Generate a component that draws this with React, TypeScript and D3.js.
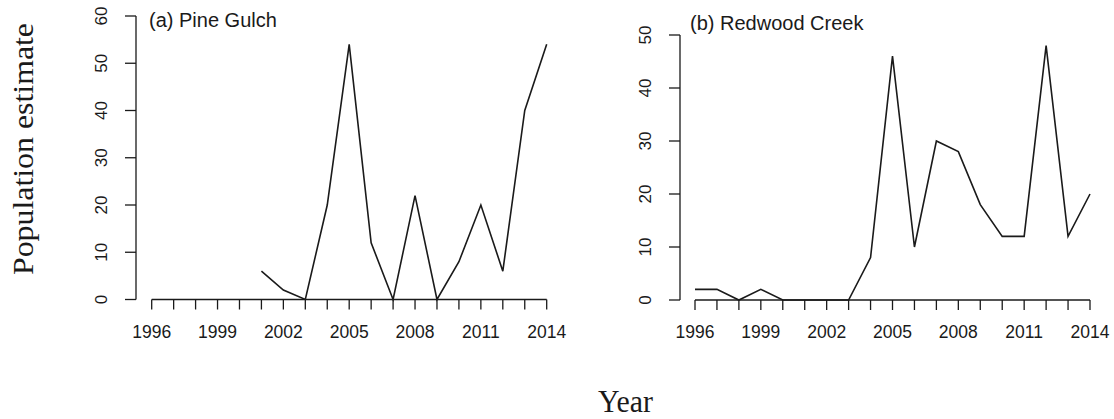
import React from "react";
import * as d3 from "d3";

const years = d3.range(1996, 2015);
// null = no estimate
const pineGulch: (number | null)[] = [null, null, null, null, null, 6, 2, 0, 20, 54, 12, 0, 22, 0, 8, 20, 6, 40, 54];
const redwoodCreek: (number | null)[] = [2, 2, 0, 2, 0, 0, 0, 0, 8, 46, 10, 30, 28, 18, 12, 12, 48, 12, 20];
const xTickLabels = [1996, 1999, 2002, 2005, 2008, 2011, 2014];
const pineTicks = [0, 10, 20, 30, 40, 50, 60];
const redwoodTicks = [0, 10, 20, 30, 40, 50];

const SANS = "'Liberation Sans', Arial, Helvetica, sans-serif";
const SERIF = "'Liberation Serif', 'Times New Roman', serif";
const INK = "#1a1a1a";

type PanelProps = {
  title: string;
  values: (number | null)[];
  yMax: number;
  yTicks: number[];
  xRange: [number, number];
  yRange: [number, number];
  axisX: number;
  titlePos: [number, number];
};

function Panel({ title, values, yMax, yTicks, xRange, yRange, axisX, titlePos }: PanelProps) {
  const x = d3.scaleLinear().domain([1996, 2014]).range(xRange);
  const y = d3.scaleLinear().domain([0, yMax]).range(yRange);
  const line = d3
    .line<[number, number | null]>()
    .defined((d) => d[1] !== null)
    .x((d) => x(d[0]))
    .y((d) => y(d[1] as number));
  const pts: [number, number | null][] = years.map((yr, i) => [yr, values[i]]);
  const baseY = y(0);
  return (
    <g>
      {/* x axis */}
      <line x1={x(1996)} x2={x(2014)} y1={baseY} y2={baseY} stroke={INK} strokeWidth={1.3} />
      {years.map((yr) => (
        <line key={yr} x1={x(yr)} x2={x(yr)} y1={baseY} y2={baseY + 10} stroke={INK} strokeWidth={1.3} />
      ))}
      {xTickLabels.map((yr) => (
        <text key={yr} x={x(yr)} y={338} textAnchor="middle" fontFamily={SANS} fontSize={17.5} fill={INK}>
          {yr}
        </text>
      ))}
      {/* y axis */}
      <line x1={axisX} x2={axisX} y1={y(0)} y2={y(yMax)} stroke={INK} strokeWidth={1.3} />
      {yTicks.map((t) => (
        <g key={t}>
          <line x1={axisX - 11} x2={axisX} y1={y(t)} y2={y(t)} stroke={INK} strokeWidth={1.3} />
          <text
            transform={`translate(${axisX - 29},${y(t)}) rotate(-90)`}
            textAnchor="middle"
            fontFamily={SANS}
            fontSize={17}
            fill={INK}
          >
            {t}
          </text>
        </g>
      ))}
      <text x={titlePos[0]} y={titlePos[1]} fontFamily={SANS} fontSize={20} fill={INK}>
        {title}
      </text>
      <path d={line(pts) || ""} fill="none" stroke={INK} strokeWidth={1.6} strokeLinejoin="miter" />
    </g>
  );
}

export default function App() {
  return (
    <svg
      width={1114}
      height={419}
      style={{ position: "absolute", left: 0, top: 0, background: "#fff", display: "block" }}
    >
      <rect width={1114} height={419} fill="#fff" />
      <Panel
        title="(a) Pine Gulch"
        values={pineGulch}
        yMax={60}
        yTicks={pineTicks}
        xRange={[151.7, 546.7]}
        yRange={[299.5, 16]}
        axisX={136}
        titlePos={[149, 27]}
      />
      <Panel
        title="(b) Redwood Creek"
        values={redwoodCreek}
        yMax={50}
        yTicks={redwoodTicks}
        xRange={[695, 1090]}
        yRange={[300, 35]}
        axisX={680}
        titlePos={[690, 30]}
      />
      <text
        transform="translate(33,149) rotate(-90)"
        textAnchor="middle"
        fontFamily={SERIF}
        fontSize={30}
        fill={INK}
        textLength={252}
        lengthAdjust="spacingAndGlyphs"
      >
        Population estimate
      </text>
      <text
        x={625.5}
        y={412}
        textAnchor="middle"
        fontFamily={SERIF}
        fontSize={31}
        fill={INK}
        textLength={55}
        lengthAdjust="spacingAndGlyphs"
      >
        Year
      </text>
    </svg>
  );
}
